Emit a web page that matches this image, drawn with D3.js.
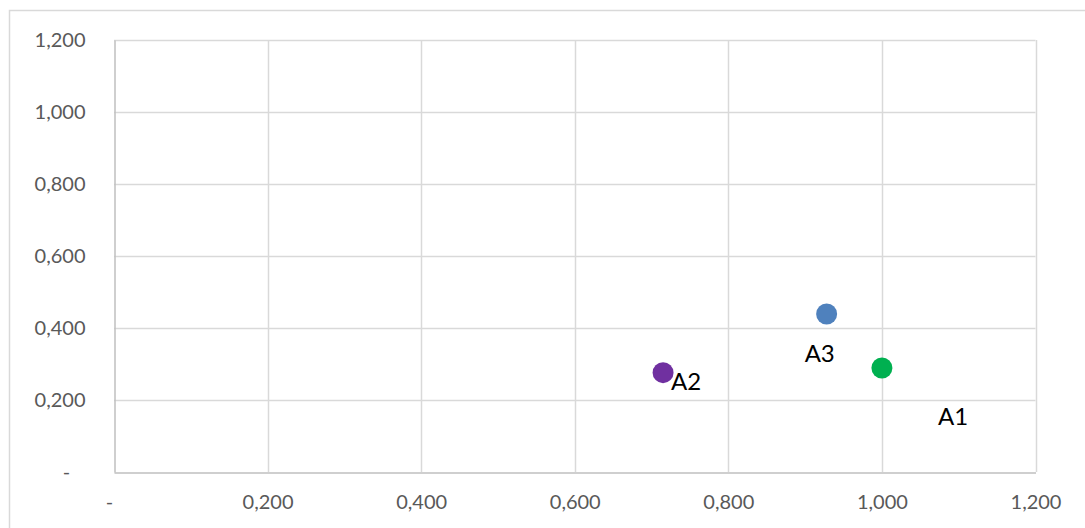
<!DOCTYPE html>
<html>
<head>
<meta charset="utf-8">
<script src="https://cdn.jsdelivr.net/npm/d3@7"></script>
<style>
  html, body { margin: 0; padding: 0; background: #fff; overflow: hidden; }
  svg { display: block; }
  text { white-space: pre; }
</style>
</head>
<body>
<svg id="chart" width="1085" height="528"></svg>
<script>
// ---- data ----
const pointNames = ["A1", "A2", "A3"];
const xValues = [1.000, 0.715, 0.928];
const yValues = [0.289, 0.276, 0.439];
const pointColors = ["#00b050", "#7030a0", "#4f81bd"];
const xTickValues = [0, 0.2, 0.4, 0.6, 0.8, 1.0, 1.2];
const yTickValues = [0, 0.2, 0.4, 0.6, 0.8, 1.0, 1.2];
const xTickLabels = ["-  ", "0,200", "0,400", "0,600", "0,800", "1,000", "1,200"];
const yTickLabels = ["-   ", "0,200", "0,400", "0,600", "0,800", "1,000", "1,200"];
// label placement (style, in pixels relative to the point)
const labelDx = [56, 8, -22];
const labelDy = [57, 17, 48];

(function () {
// ---- layout ----
const svg = d3.select("#chart");
const pLeft = 114, pRight = 1035.5, pTop = 40, pBottom = 472;
const x = d3.scaleLinear().domain([0, 1.2]).range([pLeft, pRight]);
const y = d3.scaleLinear().domain([0, 1.2]).range([pBottom, pTop]);

// outer chart border
svg.append("rect")
  .attr("x", 9.5).attr("y", 10.5)
  .attr("width", 1100).attr("height", 540)
  .attr("fill", "#fff").attr("stroke", "#d9d9d9").attr("stroke-width", 1.5);

// gridlines
const grid = svg.append("g");
grid.selectAll("line.h").data(yTickValues.slice(1)).join("line")
  .attr("x1", pLeft).attr("x2", pRight)
  .attr("y1", d => Math.round(y(d)) + 0.5).attr("y2", d => Math.round(y(d)) + 0.5)
  .attr("stroke", "#d9d9d9").attr("stroke-width", 1.5);
grid.selectAll("line.v").data(xTickValues.slice(1)).join("line")
  .attr("y1", pTop).attr("y2", pBottom)
  .attr("x1", d => Math.round(x(d)) + 0.5).attr("x2", d => Math.round(x(d)) + 0.5)
  .attr("stroke", "#d9d9d9").attr("stroke-width", 1.5);

// axes (lines only, labels custom)
const xAxis = d3.axisBottom(x).tickValues(xTickValues)
  .tickFormat((d, i) => xTickLabels[i]).tickSize(0).tickPadding(22);
const yAxis = d3.axisLeft(y).tickValues(yTickValues)
  .tickFormat((d, i) => yTickLabels[i]).tickSize(0).tickPadding(29);

const gx = svg.append("g").attr("transform", `translate(0,${pBottom + 0.5})`).call(xAxis);
const gy = svg.append("g").attr("transform", `translate(${pLeft + 0.5},0)`).call(yAxis);
[gx, gy].forEach(g => {
  g.select(".domain").attr("stroke", "#bfbfbf").attr("stroke-width", 1.5);
  g.selectAll("text")
    .attr("font-family", "Lato, 'Open Sans', sans-serif")
    .attr("font-size", 20)
    .attr("fill", "#595959");
});

// points
const pts = pointNames.map((n, i) => ({ name: n, x: xValues[i], y: yValues[i], color: pointColors[i], dx: labelDx[i], dy: labelDy[i] }));
svg.append("g").selectAll("circle").data(pts).join("circle")
  .attr("cx", d => x(d.x)).attr("cy", d => y(d.y))
  .attr("r", 10.5).attr("fill", d => d.color);

svg.append("g").selectAll("text").data(pts).join("text")
  .attr("x", d => x(d.x) + d.dx).attr("y", d => y(d.y) + d.dy)
  .attr("font-family", "Lato, 'Open Sans', sans-serif")
  .attr("font-size", 24)
  .attr("fill", "#000")
  .text(d => d.name);
})();
</script>
</body>
</html>
